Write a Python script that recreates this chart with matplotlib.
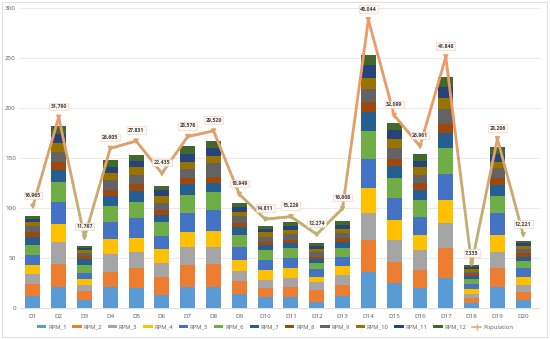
import matplotlib
matplotlib.use("Agg")
import matplotlib.pyplot as plt
import numpy as np
from matplotlib.collections import LineCollection
from matplotlib.lines import Line2D
from matplotlib.patches import Rectangle
from matplotlib.colors import to_rgb

plt.rcParams['font.family'] = ['Open Sans', 'DejaVu Sans']

# Categories and series
days = ["D%d" % i for i in range(1, 21)]
series_names = ["RPM_%d" % i for i in range(1, 13)]
colors = ["#5B9BD5", "#ED7D31", "#A5A5A5", "#FFC000", "#4472C4", "#70AD47",
          "#255E91", "#9E480E", "#636363", "#997300", "#264478", "#43682B"]

# Segment heights per day (RPM_1 .. RPM_12)
rpm_1 = [12, 21, 8, 21, 20, 13, 21, 21, 14, 11, 11, 6, 12, 36, 25, 20, 30, 5, 21, 8]
rpm_2 = [12, 23, 9, 15, 20, 18, 22, 23, 13, 9, 10, 12, 11, 32, 21, 18, 30, 5, 19, 8]
rpm_3 = [10, 22, 6, 18, 16, 14, 18, 17, 10, 8, 9, 8, 10, 27, 22, 20, 25, 4, 16, 7]
rpm_4 = [9, 18, 6, 15, 14, 14, 15, 16, 11, 10, 10, 5, 9, 25, 20, 15, 23, 5, 17, 8]
rpm_5 = [10, 22, 6, 17, 20, 13, 19, 21, 13, 10, 10, 8, 9, 29, 22, 18, 26, 5, 22, 9]
rpm_6 = [10, 20, 8, 16, 16, 14, 18, 18, 12, 10, 10, 6, 9, 28, 20, 17, 26, 5, 17, 7]
rpm_7 = [8, 12, 6, 10, 11, 7, 11, 9, 8, 5, 5, 4, 6, 19, 12, 10, 15, 3, 11, 4]
rpm_8 = [5, 8, 3, 6, 7, 5, 6, 6, 4, 3, 3, 2, 4, 10, 7, 7, 9, 2, 7, 4]
rpm_9 = [6, 10, 3, 10, 9, 7, 9, 14, 7, 5, 6, 5, 5, 13, 11, 8, 15, 2, 10, 4]
rpm_10 = [4, 9, 3, 7, 8, 7, 7, 7, 4, 5, 4, 3, 4, 11, 9, 8, 11, 3, 6, 3]
rpm_11 = [3, 9, 2, 6, 6, 6, 8, 8, 5, 3, 4, 3, 4, 13, 9, 6, 11, 2, 8, 3]
rpm_12 = [3, 8, 2, 7, 6, 4, 8, 7, 4, 3, 4, 3, 4, 10, 7, 7, 10, 2, 7, 2]
rpm_data = [rpm_1, rpm_2, rpm_3, rpm_4, rpm_5, rpm_6,
            rpm_7, rpm_8, rpm_9, rpm_10, rpm_11, rpm_12]

population = [16965, 31790, 11767, 26605, 27831, 22435, 28576, 29520, 18949, 14811,
              15229, 12274, 16608, 48044, 32099, 26961, 41848, 7335, 28206, 12221]

fig = plt.figure(figsize=(5.5, 3.39), dpi=100)
ax = fig.add_axes([20 / 550, 1 - 308 / 339, 520 / 550, 300 / 339])

x = np.arange(len(days))
bottom = np.zeros(len(days))
for name, vals, c in zip(series_names, rpm_data, colors):
    ax.bar(x, vals, bottom=bottom, width=0.58, color=c, label=name, zorder=2)
    bottom += np.array(vals)

ax.set_ylim(0, 300)
ax.set_yticks(range(0, 301, 50))
ax.set_xlim(-0.5, 19.65)
ax.set_xticks(x)
ax.set_xticklabels(days)
ax.grid(axis='y', color='#E6E6E6', linewidth=0.6, zorder=0)
for s in ax.spines.values():
    s.set_visible(False)
ax.spines['bottom'].set_visible(True)
ax.spines['bottom'].set_color('#D9D9D9')
ax.spines['bottom'].set_linewidth(0.6)
ax.tick_params(axis='both', length=0, labelsize=4.5, labelcolor='#595959')
ax.tick_params(axis='y', pad=3)
ax.tick_params(axis='x', pad=4)

# Population on a hidden secondary axis, line shaded from olive (low) to orange (high)
ax2 = ax.twinx()
ax2.set_ylim(0, 50000)
ax2.axis('off')
lo, hi = np.array(to_rgb("#BBB173")), np.array(to_rgb("#EE9A68"))
segs, cols = [], []
for i in range(len(population) - 1):
    xs = np.linspace(x[i], x[i + 1], 12)
    ys = np.linspace(population[i], population[i + 1], 12)
    for j in range(11):
        segs.append([(xs[j], ys[j]), (xs[j + 1], ys[j + 1])])
        t = np.clip(((ys[j] + ys[j + 1]) / 2 - 12000) / 20000, 0, 1)
        cols.append(lo + (hi - lo) * t)
ax2.add_collection(LineCollection(segs, colors=cols, linewidth=2.0, zorder=3,
                                  capstyle='round'))
pt_cols = [lo + (hi - lo) * np.clip((p - 12000) / 20000, 0, 1) for p in population]
ax2.scatter(x, population, s=8, marker='v', c=pt_cols, zorder=4)
for xi, p in zip(x, population):
    ax2.annotate(f"{p:,}", (xi, p), xytext=(0, 6), textcoords='offset points',
                 ha='center', va='bottom', fontsize=3.8, color='#404040',
                 fontweight='bold',
                 bbox=dict(boxstyle='square,pad=0.25', fc='#FFF8F4',
                           ec='#F6CDB3', lw=0.4), zorder=5)

handles, labels = ax.get_legend_handles_labels()
handles.append(Line2D([], [], color='#D7B078', lw=1.2, marker='|', markersize=4))
labels.append("Population")
fig.legend(handles, labels, loc='center', bbox_to_anchor=(0.5, 1 - 327 / 339),
           ncol=13, fontsize=4.2, frameon=False, handlelength=1.6,
           handleheight=0.5, columnspacing=1.0, handletextpad=0.3,
           labelcolor='#595959')

fig.patches.append(Rectangle((0.004, 0.006), 0.99, 0.988, transform=fig.transFigure,
                             fill=False, ec='#D9D9D9', lw=0.6))

fig.savefig("out.png", dpi=100)
